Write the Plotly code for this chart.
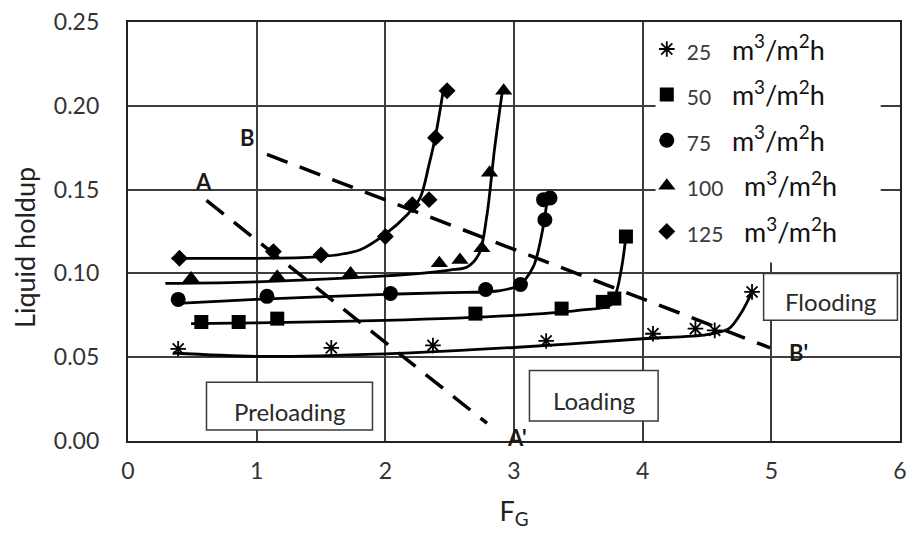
import plotly.graph_objects as go

# ---------------- data ----------------
series_names = ["25", "50", "75", "100", "125"]
symbols = ["asterisk-open", "square", "circle", "triangle-up", "diamond"]
marker_sizes = [13, 14, 15, 15, 13]

# measured points
x25 = [0.39, 1.58, 2.37, 3.25, 4.08, 4.41, 4.56, 4.85]
y25 = [0.055, 0.0556, 0.057, 0.0597, 0.064, 0.067, 0.066, 0.089]
x50 = [0.57, 0.86, 1.16, 2.70, 3.37, 3.69, 3.78, 3.87]
y50 = [0.071, 0.071, 0.073, 0.076, 0.079, 0.083, 0.085, 0.122]
x75 = [0.39, 1.08, 2.04, 2.78, 3.05, 3.24, 3.23, 3.28]
y75 = [0.0845, 0.0863, 0.088, 0.0904, 0.0934, 0.132, 0.144, 0.145]
x100 = [0.49, 1.16, 1.73, 2.42, 2.58, 2.75, 2.81, 2.92]
y100 = [0.097, 0.098, 0.100, 0.106, 0.108, 0.115, 0.160, 0.209]
x125 = [0.40, 1.13, 1.50, 2.00, 2.21, 2.34, 2.39, 2.48]
y125 = [0.109, 0.113, 0.111, 0.122, 0.141, 0.144, 0.181, 0.209]

# fitted curves (knots)
cx25 = [0.35, 1.0, 2.0, 3.0, 4.0, 4.5, 4.67, 4.77, 4.85]
cy25 = [0.0525, 0.0505, 0.052, 0.0558, 0.061, 0.0635, 0.067, 0.077, 0.089]
cx50 = [0.49, 1.0, 2.0, 3.0, 3.5, 3.75, 3.8, 3.84, 3.87]
cy50 = [0.0700, 0.0705, 0.072, 0.075, 0.078, 0.081, 0.090, 0.105, 0.122]
cx75 = [0.35, 1.0, 2.0, 2.5, 2.87, 3.04, 3.15, 3.22, 3.26]
cy75 = [0.082, 0.0845, 0.0875, 0.0885, 0.0895, 0.093, 0.104, 0.125, 0.145]
cx100 = [0.29, 1.0, 2.0, 2.5, 2.64, 2.73, 2.79, 2.85, 2.91]
cy100 = [0.094, 0.095, 0.0985, 0.102, 0.104, 0.112, 0.135, 0.175, 0.209]
cx125 = [0.34, 1.0, 1.5, 1.8, 2.0, 2.17, 2.27, 2.34, 2.39, 2.45]
cy125 = [0.109, 0.109, 0.110, 0.114, 0.1235, 0.135, 0.145, 0.165, 0.182, 0.209]

# boundary lines
line_AA_x = [0.61, 2.79]
line_AA_y = [0.1436, 0.0106]
line_BB_x = [1.08, 4.99]
line_BB_y = [0.171, 0.0556]

# point labels
label_text = ["A", "B", "A'", "B'"]
label_x = [0.59, 0.93, 3.02, 5.21]
label_y = [0.155, 0.181, 0.002, 0.053]

# region boxes
box_text = ["Preloading", "Loading", "Flooding"]
box_x0 = [0.61, 3.12, 4.94]
box_x1 = [1.90, 4.12, 5.98]
box_y0 = [0.0065, 0.012, 0.072]
box_y1 = [0.035, 0.042, 0.100]

x_ticks = [0, 1, 2, 3, 4, 5, 6]
y_ticks = [0.0, 0.05, 0.10, 0.15, 0.20, 0.25]

pts = [(x25, y25), (x50, y50), (x75, y75), (x100, y100), (x125, y125)]
curves = [(cx25, cy25), (cx50, cy50), (cx75, cy75), (cx100, cy100), (cx125, cy125)]

FONT = "Lato"
fig = go.Figure()

for (cx, cy) in curves:
    fig.add_trace(go.Scatter(x=cx, y=cy, mode="lines",
                             line=dict(color="black", width=2.8, shape="spline", smoothing=0.9),
                             showlegend=False, hoverinfo="skip"))

for i, ((px, py), name) in enumerate(zip(pts, series_names)):
    is_ast = symbols[i].startswith("asterisk")
    fig.add_trace(go.Scatter(
        x=px, y=py, mode="markers", legendgroup=name,
        name=f"<span style='font-size:21px;color:#3a3a3a'>{name}</span>   m<sup>3</sup>/m<sup>2</sup>h",
        marker=dict(symbol=symbols[i], size=marker_sizes[i], color="black",
                    line=dict(color="black", width=1.8 if is_ast else 0)),
    ))

for lx, ly in [(line_AA_x, line_AA_y), (line_BB_x, line_BB_y)]:
    fig.add_trace(go.Scatter(x=lx, y=ly, mode="lines",
                             line=dict(color="black", width=3.5, dash="22px,13px"),
                             showlegend=False, hoverinfo="skip"))

shapes = []
# white legend backdrop
shapes.append(dict(type="rect", xref="x", yref="y", x0=4.1, x1=5.85, y0=0.1065, y1=0.25,
                   fillcolor="white", line=dict(width=0), layer="between"))
annotations = []
for t, a0, a1, b0, b1 in zip(box_text, box_x0, box_x1, box_y0, box_y1):
    shapes.append(dict(type="rect", xref="x", yref="y", x0=a0, x1=a1, y0=b0, y1=b1,
                       fillcolor="white", line=dict(color="#3a3a3a", width=1.5), layer="between"))
    annotations.append(dict(x=(a0 + a1) / 2, y=(b0 + b1) / 2 - 0.003, xref="x", yref="y",
                            text=t, showarrow=False,
                            font=dict(family=FONT, size=24, color="#2a2a2a")))
for t, lx, ly in zip(label_text, label_x, label_y):
    annotations.append(dict(x=lx, y=ly, xref="x", yref="y", text=f"<b>{t}</b>", showarrow=False,
                            font=dict(family=FONT, size=22, color="#1a1a1a")))
# y-axis title (placed as in the reference, slightly below the axis middle)
annotations.append(dict(x=-0.1348, y=0.463, xref="paper", yref="paper", text="Liquid holdup",
                        textangle=-90, showarrow=False, xanchor="center", yanchor="middle",
                        font=dict(family=FONT, size=27, color="#222")))

fig.update_layout(
    width=914, height=536,
    margin=dict(l=128, r=7, t=18, b=95),
    paper_bgcolor="white", plot_bgcolor="white",
    font=dict(family=FONT, color="#1a1a1a"),
    shapes=shapes, annotations=annotations,
    legend=dict(x=0.672, y=0.993, xanchor="left", yanchor="top",
                bgcolor="rgba(0,0,0,0)", tracegroupgap=7.5,
                font=dict(family=FONT, size=27, color="#111")),
    xaxis=dict(range=[0, 6], tickvals=x_ticks, ticktext=[str(v) for v in x_ticks],
               showgrid=True, gridcolor="#3d3d3d", gridwidth=1.5, zeroline=False,
               showline=True, mirror=True, linecolor="#222", linewidth=2.2,
               ticks="", ticklabelstandoff=8,
               tickfont=dict(family=FONT, size=23, color="#333"),
               title=dict(text="F<sub>G</sub>", font=dict(family=FONT, size=27, color="#222"), standoff=19)),
    yaxis=dict(range=[0, 0.25], tickvals=y_ticks, ticktext=[f"{v:.2f}" for v in y_ticks],
               showgrid=True, gridcolor="#3d3d3d", gridwidth=1.5, zeroline=False,
               showline=True, mirror=True, linecolor="#222", linewidth=2.2,
               ticks="", ticklabelstandoff=22,
               tickfont=dict(family=FONT, size=23, color="#333")),
)

fig.write_html("out.html")
